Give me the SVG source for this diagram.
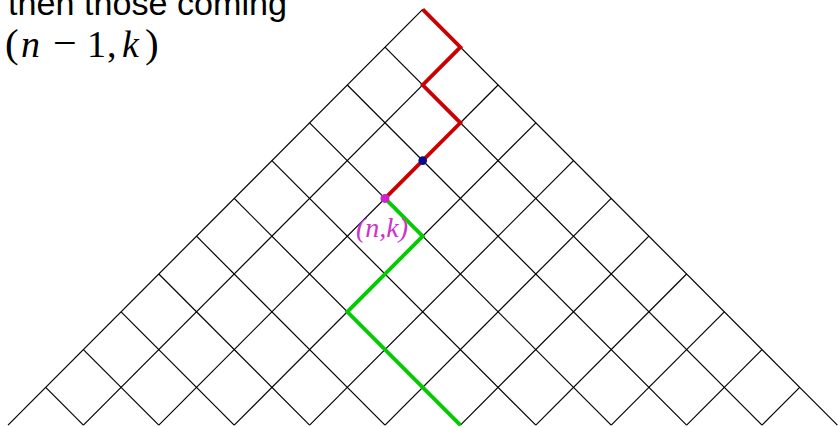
<svg xmlns="http://www.w3.org/2000/svg" width="838" height="427" viewBox="0 0 838 427">
<style>
.grid line{stroke:#000;stroke-width:1.2;fill:none}
.red{stroke:#cc0000;stroke-width:3.8;fill:none;stroke-linejoin:miter}
.green{stroke:#00cc00;stroke-width:3.8;fill:none;stroke-linejoin:miter}
.sans{font-family:"Liberation Sans",Arial,sans-serif;fill:#000}
.math{font-family:"Liberation Serif","Times New Roman",serif;fill:#000}
.lbl{font-family:"Liberation Serif","Times New Roman",serif;font-style:italic;fill:#cc33cc}
</style>
<rect width="838" height="427" fill="#fff"/>
<g id="grid" class="grid">
<line x1="422.7" y1="9.4" x2="837.4" y2="425.2"/>
<line x1="385" y1="47.2" x2="762" y2="425.2"/>
<line x1="347.3" y1="85" x2="686.6" y2="425.2"/>
<line x1="309.6" y1="122.8" x2="611.2" y2="425.2"/>
<line x1="271.9" y1="160.6" x2="535.8" y2="425.2"/>
<line x1="234.2" y1="198.4" x2="460.4" y2="425.2"/>
<line x1="196.5" y1="236.2" x2="385" y2="425.2"/>
<line x1="158.8" y1="274" x2="309.6" y2="425.2"/>
<line x1="121.1" y1="311.8" x2="234.2" y2="425.2"/>
<line x1="83.4" y1="349.6" x2="158.8" y2="425.2"/>
<line x1="45.7" y1="387.4" x2="83.4" y2="425.2"/>
<line x1="422.7" y1="9.4" x2="8" y2="425.2"/>
<line x1="460.4" y1="47.2" x2="83.4" y2="425.2"/>
<line x1="498.1" y1="85" x2="158.8" y2="425.2"/>
<line x1="535.8" y1="122.8" x2="234.2" y2="425.2"/>
<line x1="573.5" y1="160.6" x2="309.6" y2="425.2"/>
<line x1="611.2" y1="198.4" x2="385" y2="425.2"/>
<line x1="648.9" y1="236.2" x2="460.4" y2="425.2"/>
<line x1="686.6" y1="274" x2="535.8" y2="425.2"/>
<line x1="724.3" y1="311.8" x2="611.2" y2="425.2"/>
<line x1="762" y1="349.6" x2="686.6" y2="425.2"/>
<line x1="799.7" y1="387.4" x2="762" y2="425.2"/>
</g>
<g id="connectors">
<polyline class="red" points="422.7,9.4 460.4,47.2 422.7,85 460.4,122.8 385,198.4"/>
<polyline class="green" points="385,198.4 422.7,236.2 347.3,311.8 460.4,425.2"/>
</g>
<g id="node-blue"><circle cx="422.7" cy="160.6" r="4.3" fill="#0a0a8c"/></g>
<g id="node-nk">
<circle cx="385" cy="198.4" r="4.5" fill="#cc22cc"/>
<text class="lbl" x="356" y="236.5" font-size="28">(n,k)</text>
</g>
<g id="caption">
<text class="sans" x="8" y="14.5" font-size="34" textLength="279" lengthAdjust="spacingAndGlyphs">then those coming</text>
<text class="math" y="57" font-size="38"><tspan x="5" font-size="41">(</tspan><tspan x="21" font-style="italic">n</tspan><tspan x="53" font-size="42">−</tspan><tspan x="87">1</tspan><tspan x="107">,</tspan><tspan x="122" font-style="italic">k</tspan><tspan x="145" font-size="41">)</tspan></text>
</g>
</svg>
